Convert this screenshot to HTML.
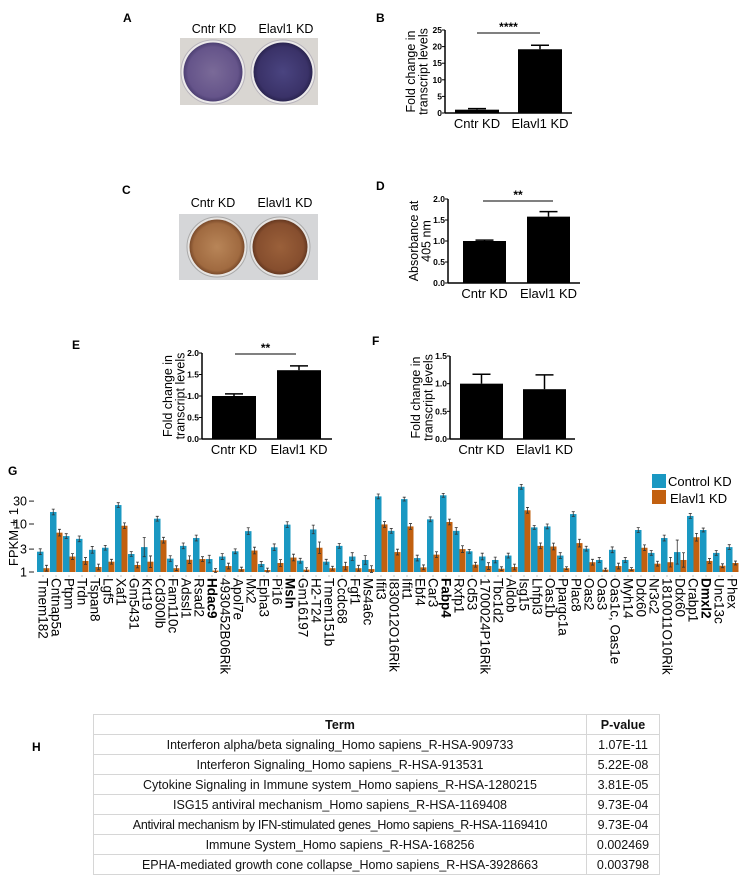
<!DOCTYPE html>
<html><head><meta charset="utf-8">
<style>
html,body{margin:0;padding:0;background:#fff;}
body{width:755px;height:879px;overflow:hidden;position:relative;font-family:"Liberation Sans",sans-serif;}
svg text{font-family:"Liberation Sans",sans-serif;}
#tbl{position:absolute;left:93px;top:714px;border-collapse:collapse;font-family:"Liberation Sans",sans-serif;font-size:12.5px;color:#111;}
#tbl td,#tbl th{border:1px solid #d6d6d6;height:19px;padding:0 4px;text-align:center;white-space:nowrap;}
#tbl th{font-weight:bold;}
</style></head><body>
<svg id="fig" width="755" height="879" xmlns="http://www.w3.org/2000/svg" style="position:absolute;left:0;top:0">
<defs>
<radialGradient id="gp1" cx="50%" cy="50%" r="50%"><stop offset="0" stop-color="#7a6a98"/><stop offset="0.85" stop-color="#65548a"/><stop offset="1" stop-color="#4c3f72"/></radialGradient>
<radialGradient id="gp2" cx="50%" cy="50%" r="50%"><stop offset="0" stop-color="#4a4480"/><stop offset="0.85" stop-color="#3a3268"/><stop offset="1" stop-color="#2a2450"/></radialGradient>
<radialGradient id="gb1" cx="50%" cy="50%" r="50%"><stop offset="0" stop-color="#b88558"/><stop offset="0.85" stop-color="#a06a40"/><stop offset="1" stop-color="#7a4a2a"/></radialGradient>
<radialGradient id="gb2" cx="50%" cy="50%" r="50%"><stop offset="0" stop-color="#9a603a"/><stop offset="0.85" stop-color="#864e2e"/><stop offset="1" stop-color="#653820"/></radialGradient>
</defs>
<!-- Panel labels -->
<text x="123" y="22" font-size="12" font-weight="bold">A</text>
<text x="376" y="22" font-size="12" font-weight="bold">B</text>
<text x="122" y="194" font-size="12" font-weight="bold">C</text>
<text x="376" y="190" font-size="12" font-weight="bold">D</text>
<text x="72" y="349" font-size="12" font-weight="bold">E</text>
<text x="372" y="345" font-size="12" font-weight="bold">F</text>
<text x="8" y="475" font-size="12" font-weight="bold">G</text>
<text x="32" y="751" font-size="12" font-weight="bold">H</text>

<!-- Plate A -->
<g>
<text x="214" y="33" font-size="12.5" text-anchor="middle">Cntr KD</text>
<text x="286" y="33" font-size="12.5" text-anchor="middle">Elavl1 KD</text>
<rect x="180" y="38" width="138" height="67" fill="#d9d6d2"/>
<circle cx="213" cy="72" r="32" fill="#eceaea" stroke="#b8b4bc"/>
<circle cx="283" cy="72" r="32" fill="#eceaea" stroke="#b8b4bc"/>
<circle cx="213" cy="72" r="29.5" fill="url(#gp1)"/>
<circle cx="283" cy="72" r="29.5" fill="url(#gp2)"/>
</g>
<!-- Plate C -->
<g>
<text x="213" y="207" font-size="12.5" text-anchor="middle">Cntr KD</text>
<text x="285" y="207" font-size="12.5" text-anchor="middle">Elavl1 KD</text>
<rect x="179" y="214" width="139" height="66" fill="#d5d6d8"/>
<circle cx="217" cy="247" r="30" fill="#e6e4e2" stroke="#aaa"/>
<circle cx="280" cy="247" r="30" fill="#e6e4e2" stroke="#aaa"/>
<circle cx="217" cy="247" r="27.5" fill="url(#gb1)"/>
<circle cx="280" cy="247" r="27.5" fill="url(#gb2)"/>
</g>
<g id="small-charts"></g>
<g id="chart-g"></g>
</svg>

<table id="tbl">
<tr><th style="width:484px">Term</th><th style="width:64px">P-value</th></tr>
<tr><td>Interferon alpha/beta signaling_Homo sapiens_R-HSA-909733</td><td>1.07E-11</td></tr>
<tr><td>Interferon Signaling_Homo sapiens_R-HSA-913531</td><td>5.22E-08</td></tr>
<tr><td>Cytokine Signaling in Immune system_Homo sapiens_R-HSA-1280215</td><td>3.81E-05</td></tr>
<tr><td>ISG15 antiviral mechanism_Homo sapiens_R-HSA-1169408</td><td>9.73E-04</td></tr>
<tr><td style="letter-spacing:-0.3px">Antiviral mechanism by IFN-stimulated genes_Homo sapiens_R-HSA-1169410</td><td>9.73E-04</td></tr>
<tr><td>Immune System_Homo sapiens_R-HSA-168256</td><td>0.002469</td></tr>
<tr><td>EPHA-mediated growth cone collapse_Homo sapiens_R-HSA-3928663</td><td>0.003798</td></tr>
</table>

<script>
var smallCategories = ["Cntr KD", "Elavl1 KD"];
var bValues = [1.0, 19.2];
var bErrors = [0.3, 1.2];
var bTicks = ["0", "5", "10", "15", "20", "25"];
var dValues = [1.0, 1.58];
var dErrors = [0.02, 0.12];
var dTicks = ["0.0", "0.5", "1.0", "1.5", "2.0"];
var eValues = [1.0, 1.6];
var eErrors = [0.05, 0.1];
var eTicks = ["0.0", "0.5", "1.0", "1.5", "2.0"];
var fValues = [1.0, 0.9];
var fErrors = [0.17, 0.26];
var fTicks = ["0.0", "0.5", "1.0", "1.5"];

var genes = ["Tmem182","Cntnap5a","Ptpm","Trdn","Tspan8","Lgf5","Xaf1","Gm5431","Krt19","Cd300lb","Fam110c","Adssl1","Rsad2","Hdac9","4930452B06Rik","Apol7e","Mx2","Epha3","Pi16","Msln","Gm16197","H2-T24","Tmem151b","Ccdc68","Fgf1","Ms4a6c","Ifit3","I830012O16Rik","Ifit1","Ebf4","Car3","Fabp4","Rxfp1","Cd53","1700024P16Rik","Tbc1d2","Aldob","Isg15","Lhfpl3","Oas1b","Ppargc1a","Plac8","Oas2","Oas3","Oas1c, Oas1e","Myh14","Ddx60","Nr3c2","1810011O10Rik","Ddx60","Crabp1","Dmxl2","Unc13c","Phex"];
var boldGenes = ["Hdac9","Msln","Fabp4","Dmxl2"];
var controlKD = [2.65,17.8,5.6,4.9,2.9,3.2,24.8,2.37,3.3,12.9,1.9,3.5,5.1,1.86,2.1,2.7,7.1,1.47,3.27,9.7,1.72,7.7,1.64,3.5,2.1,1.78,37.6,7.2,33,1.95,12.5,39.6,7.2,2.7,2.1,1.78,2.2,59.6,8.5,8.9,2.2,16.1,3.06,1.78,2.9,1.78,7.5,2.5,5.1,2.6,14.7,7.5,2.5,3.3];
var elavlKD = [1.2,6.6,2.1,1.7,1.27,1.64,9.2,1.4,1.64,4.6,1.2,1.8,1.86,1.07,1.33,1.15,2.8,1.1,1.54,2.0,1.12,3.2,1.2,1.33,1.2,1.15,9.8,2.6,8.9,1.25,2.3,11,3.0,1.42,1.33,1.17,1.27,19.3,3.5,3.4,1.2,4.0,1.6,1.12,1.33,1.15,3.2,1.49,1.6,1.78,5.3,1.7,1.35,1.54];
var controlErrDec = [0.06,0.06,0.05,0.06,0.07,0.05,0.05,0.05,0.2,0.05,0.06,0.06,0.06,0.08,0.06,0.05,0.07,0.05,0.07,0.06,0.05,0.09,0.05,0.05,0.08,0.09,0.05,0.05,0.04,0.06,0.05,0.04,0.07,0.04,0.07,0.06,0.05,0.05,0.04,0.05,0.06,0.05,0.05,0.05,0.06,0.05,0.05,0.05,0.06,0.25,0.05,0.04,0.05,0.05];
var elavlErrDec = [0.06,0.07,0.06,0.07,0.06,0.05,0.06,0.06,0.12,0.06,0.05,0.08,0.05,0.04,0.06,0.04,0.07,0.04,0.07,0.07,0.04,0.12,0.04,0.08,0.06,0.07,0.06,0.06,0.06,0.05,0.06,0.06,0.07,0.05,0.07,0.04,0.06,0.06,0.06,0.07,0.03,0.08,0.06,0.03,0.06,0.03,0.06,0.05,0.1,0.15,0.08,0.05,0.04,0.04];
var gTicks = [1, 3, 10, 30];

var NS = "http://www.w3.org/2000/svg";
function mk(parent, tag, attrs, txt){
  var el = document.createElementNS(NS, tag);
  for (var k in attrs) el.setAttribute(k, attrs[k]);
  if (txt !== undefined) el.textContent = txt;
  parent.appendChild(el);
  return el;
}

function smallChart(name, cfg, values, errors, ticks){
  var root = document.getElementById('small-charts');
  var g = mk(root, 'g', {});
  
  
  var yScale = function(v){ return cfg.base - (v / cfg.max) * (cfg.base - cfg.top); };
  var ax = mk(g, 'line', {x1:cfg.ax, y1:cfg.top, x2:cfg.ax, y2:cfg.base, stroke:'#000', 'stroke-width':1.5});
  
  
  var xa = mk(g, 'line', {x1:cfg.ax, y1:cfg.base, x2:cfg.xEnd, y2:cfg.base, stroke:'#000', 'stroke-width':1.5});
  
  
  for (var i = 0; i < ticks.length; i++){
    var tv = parseFloat(ticks[i]);
    var ty = yScale(tv);
    mk(g, 'line', {x1:cfg.ax-3, y1:ty, x2:cfg.ax, y2:ty, stroke:'#000', 'stroke-width':1});
    var tl = mk(g, 'text', {x:cfg.ax-3, y:ty+3, 'font-size':8.5, 'font-weight':'bold', 'text-anchor':'end'}, ticks[i]);
    
    
  }
  for (var j = 0; j < values.length; j++){
    var bx = cfg.barX[j];
    var yv = yScale(values[j]);
    var ye = yScale(values[j] + errors[j]);
    var bar = mk(g, 'rect', {x:bx, y:yv, width:cfg.bw, height:cfg.base - yv, fill:'#000'});
    
    
    var cx = bx + cfg.bw/2;
    mk(g, 'line', {x1:cx, y1:yv, x2:cx, y2:ye, stroke:'#000', 'stroke-width':1.5});
    mk(g, 'line', {x1:cx-9, y1:ye, x2:cx+9, y2:ye, stroke:'#000', 'stroke-width':1.5});
    var xl = mk(g, 'text', {x:cx, y:cfg.base+15, 'font-size':13, 'text-anchor':'middle'}, smallCategories[j]);
    
    
  }
  var lx = cfg.ax - 30, ly = (cfg.top + cfg.base)/2;
  var yl = mk(g, 'text', {x:0, y:0, 'font-size':12.5, 'text-anchor':'middle', transform:'translate('+lx+','+ly+') rotate(-90)'});
  
  
  mk(yl, 'tspan', {x:0, dy:0}, cfg.ylab[0]);
  if (cfg.ylab[1]) mk(yl, 'tspan', {x:0, dy:12.5}, cfg.ylab[1]);
  if (cfg.sig){
    var sl = mk(g, 'line', {x1:cfg.sig[0], y1:cfg.sig[2], x2:cfg.sig[1], y2:cfg.sig[2], stroke:'#000', 'stroke-width':1});
    
    
    var st = mk(g, 'text', {x:(cfg.sig[0]+cfg.sig[1])/2, y:cfg.sig[2]-2, 'font-size':12, 'font-weight':'bold', 'text-anchor':'middle'}, cfg.sig[3]);
    
    
  }
}

smallChart('chart-b', {ax:445, top:30, base:113, max:25, xEnd:572, barX:[455,518], bw:44, ylab:['Fold change in','transcript levels'], sig:[477,540,33,'****']}, bValues, bErrors, bTicks);
smallChart('chart-d', {ax:448, top:199, base:283, max:2.0, xEnd:580, barX:[463,527], bw:43, ylab:['Absorbance at','405 nm'], sig:[483,553,201,'**']}, dValues, dErrors, dTicks);
smallChart('chart-e', {ax:202, top:353, base:439, max:2.0, xEnd:332, barX:[212,277], bw:44, ylab:['Fold change in','transcript levels'], sig:[235,296,354,'**']}, eValues, eErrors, eTicks);
smallChart('chart-f', {ax:450, top:356, base:439, max:1.5, xEnd:575, barX:[460,523], bw:43, ylab:['Fold change in','transcript levels']}, fValues, fErrors, fTicks);

(function(){
  var g = document.getElementById('chart-g');
  var base = 572, perDec = 48, x0 = 43, step = 13.0;
  var yScale = function(v){ return base - Math.log10(v) * perDec; };
  var xCenter = function(i){ return x0 + i * step; };
  var blue = '#1a98c2', orange = '#c2600f';
  for (var t = 0; t < gTicks.length; t++){
    var ty = yScale(gTicks[t]);
    var tl = mk(g, 'text', {x:27, y:ty+4.5, 'font-size':12.5, 'text-anchor':'end'}, String(gTicks[t]));
    
    
    mk(g, 'line', {x1:29, y1:ty, x2:34, y2:ty, stroke:'#222', 'stroke-width':1});
  }
  var yt = mk(g, 'text', {x:0, y:0, 'font-size':13, 'text-anchor':'middle', transform:'translate(18,537) rotate(-90)'}, 'FPKM + 1');
  
  
  for (var i = 0; i < genes.length; i++){
    var c = xCenter(i);
    var yb = yScale(controlKD[i]);
    var b1 = mk(g, 'rect', {x:c-6, y:yb, width:6.5, height:base-yb, fill:blue});
    
    
    var yo = yScale(elavlKD[i]);
    var b2 = mk(g, 'rect', {x:c+0.5, y:yo, width:6, height:base-yo, fill:orange});
    
    
    var e1t = yb - controlErrDec[i]*perDec, e1b = yb + controlErrDec[i]*perDec;
    mk(g, 'path', {d:'M'+(c-2.75)+','+e1t+'V'+e1b+'M'+(c-4.25)+','+e1t+'H'+(c-1.25)+'M'+(c-4.25)+','+e1b+'H'+(c-1.25), stroke:'#333', 'stroke-width':0.8, fill:'none'});
    var e2t = yo - elavlErrDec[i]*perDec, e2b = yo + elavlErrDec[i]*perDec;
    mk(g, 'path', {d:'M'+(c+3.5)+','+e2t+'V'+e2b+'M'+(c+2)+','+e2t+'H'+(c+5)+'M'+(c+2)+','+e2b+'H'+(c+5), stroke:'#333', 'stroke-width':0.8, fill:'none'});
    mk(g, 'line', {x1:c, y1:base+3, x2:c, y2:base+5, stroke:'#999', 'stroke-width':0.6});
    var bold = boldGenes.indexOf(genes[i]) >= 0;
    var lab = mk(g, 'text', {x:0, y:0, 'font-size':13.5, 'font-weight': bold ? 'bold' : 'normal', transform:'translate('+(c-4.5)+','+(base+6)+') rotate(90)'}, genes[i]);
    
    
  }
  var lg = mk(g, 'g', {});
  
  
  var l1 = mk(lg, 'rect', {x:652, y:474, width:14, height:14, fill:blue});
  
  
  var t1 = mk(lg, 'text', {x:668, y:486, 'font-size':13}, 'Control KD');
  
  
  var l2 = mk(lg, 'rect', {x:652, y:490, width:14, height:14, fill:orange});
  
  
  var t2 = mk(lg, 'text', {x:670, y:503, 'font-size':13}, 'Elavl1 KD');
  
  
})();
</script>
</body></html>
